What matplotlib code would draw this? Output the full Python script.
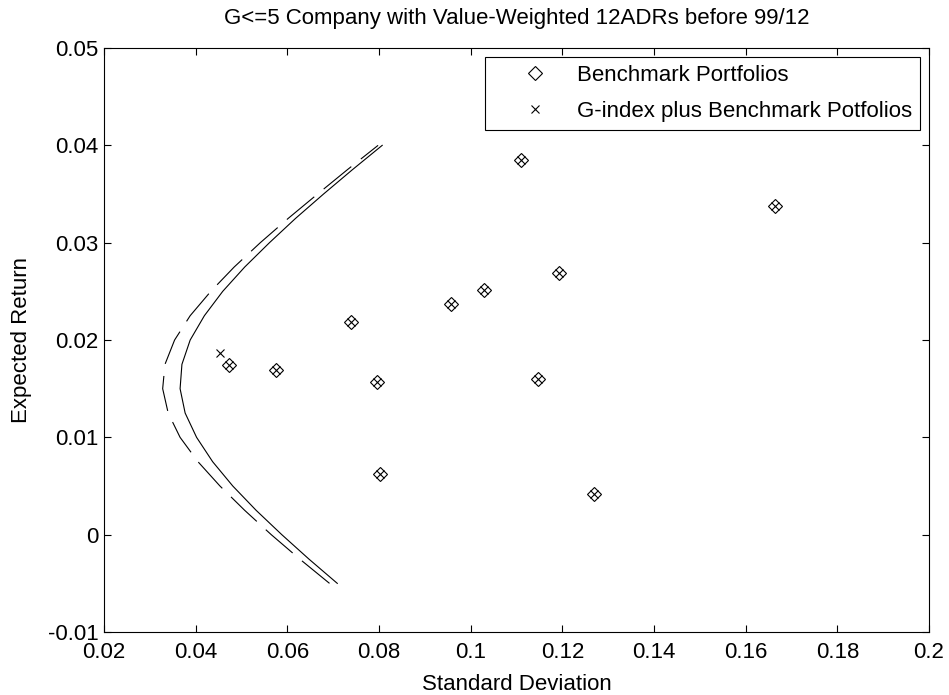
import numpy as np
import matplotlib
matplotlib.use('Agg')
import matplotlib.pyplot as plt
from matplotlib.ticker import FuncFormatter

plt.rcParams['font.family'] = ['Liberation Sans', 'DejaVu Sans']

# 基准组合（标准差, 期望收益）
bench_sd = [0.1109, 0.0738, 0.0958, 0.1030, 0.1193, 0.0795,
            0.1148, 0.0802, 0.1269, 0.1663, 0.0473, 0.0575]
bench_ret = [0.0385, 0.0219, 0.0237, 0.0251, 0.0269, 0.0157,
             0.0160, 0.0062, 0.0042, 0.0338, 0.0174, 0.0169]

# G-index 单独一点
g_sd = [0.0453]
g_ret = [0.0187]

# 有效前沿：期望收益网格
frontier_ret = [-0.005, -0.0025, 0.0, 0.0025, 0.005, 0.0075, 0.01, 0.0125, 0.015,
                0.0175, 0.02, 0.0225, 0.025, 0.0275, 0.03, 0.0325, 0.035, 0.0375, 0.04]
# 基准组合前沿（实线）
bench_frontier_sd = [0.0709, 0.0647, 0.0588, 0.0532, 0.0481, 0.0437, 0.0402, 0.0377, 0.0366,
                     0.0370, 0.0388, 0.0419, 0.0459, 0.0507, 0.0561, 0.0618, 0.0679, 0.0742, 0.0807]
# 加入 G-index 后的前沿（虚线）
g_frontier_sd = [0.0692, 0.0627, 0.0565, 0.0507, 0.0453, 0.0405, 0.0366, 0.0340, 0.0328,
                 0.0333, 0.0354, 0.0388, 0.0433, 0.0484, 0.0541, 0.0602, 0.0666, 0.0731, 0.0798]

fig = plt.figure(figsize=(9.49, 6.95), dpi=100)
ax = fig.add_axes([0.1096, 0.0906, 0.8693, 0.8403])

ax.plot(bench_frontier_sd, frontier_ret, color='black', linewidth=0.8)
ax.plot(g_frontier_sd, frontier_ret, color='black', linewidth=0.8, dashes=(32, 11))

ax.plot(bench_sd, bench_ret, linestyle='none', marker='D', markersize=7.5,
        markerfacecolor='none', markeredgecolor='black', markeredgewidth=0.8,
        label='Benchmark Portfolios')
ax.plot(bench_sd + g_sd, bench_ret + g_ret, linestyle='none', marker='x', markersize=5.5,
        color='black', markeredgewidth=0.8, label='G-index plus Benchmark Potfolios')

ax.set_xlim(0.02, 0.2)
ax.set_ylim(-0.01, 0.05)
ax.set_xticks(np.arange(0.02, 0.2001, 0.02))
ax.set_yticks(np.arange(-0.01, 0.0501, 0.01))
fmt = FuncFormatter(lambda v, pos: '%g' % round(v, 4))
ax.xaxis.set_major_formatter(fmt)
ax.yaxis.set_major_formatter(fmt)
ax.tick_params(direction='in', length=5, width=0.8, top=True, right=True,
               labelsize=16, pad=4)
ax.tick_params(axis='x', pad=7)
for s in ax.spines.values():
    s.set_linewidth(0.8)

ax.set_xlabel('Standard Deviation', fontsize=16, labelpad=8)
ax.set_ylabel('Expected Return', fontsize=16, labelpad=11)
ax.set_title('G<=5 Company with Value-Weighted 12ADRs before 99/12', fontsize=16, pad=17)

leg = ax.legend(loc='upper right', fontsize=16, fancybox=False, framealpha=1,
                edgecolor='black', borderaxespad=0.4, handlelength=3.8,
                handletextpad=0.0, labelspacing=0.68, borderpad=0.35)
leg.get_frame().set_linewidth(0.8)

fig.savefig('out.png', dpi=100)
